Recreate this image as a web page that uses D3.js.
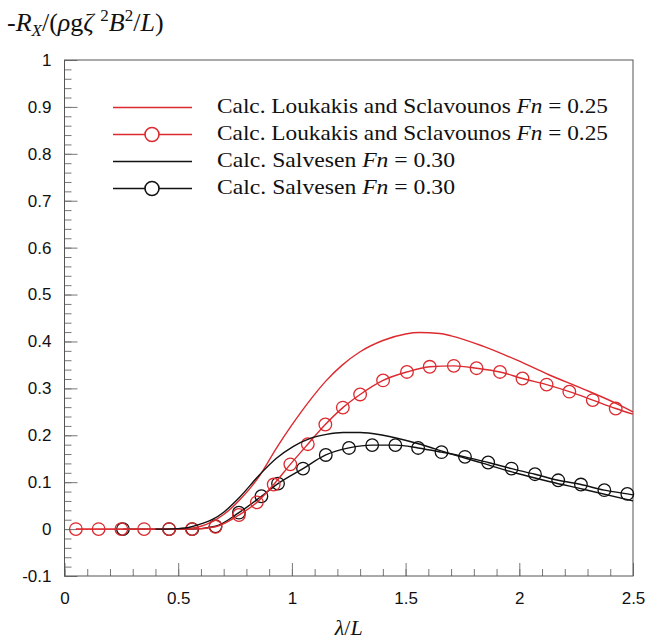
<!DOCTYPE html>
<html>
<head>
<meta charset="utf-8">
<script src="https://cdn.jsdelivr.net/npm/d3@7"></script>
<style>
  html, body { margin: 0; padding: 0; background: #fff; }
  svg { display: block; }
  .tick text { font-family: "Liberation Sans", Arial, sans-serif; font-size: 17px; fill: #111; }
</style>
</head>
<body>
<svg id="chart" width="647" height="642"></svg>
<script>
// Added-resistance curves, λ/L vs non-dimensional -R_X
const loukakisLineX = [0.05, 0.2, 0.4, 0.5, 0.56, 0.6, 0.65, 0.7, 0.77, 0.86, 0.93, 1.0, 1.08, 1.15, 1.22, 1.3, 1.4, 1.5, 1.56, 1.65, 1.7, 1.84, 1.99, 2.13, 2.28, 2.43, 2.5];
const loukakisLineY = [0, 0, 0, 0, 0.002, 0.006, 0.016, 0.031, 0.062, 0.115, 0.171, 0.222, 0.275, 0.316, 0.349, 0.378, 0.402, 0.416, 0.419, 0.417, 0.412, 0.39, 0.36, 0.329, 0.299, 0.267, 0.25];

const loukakisMarkX = [0.05, 0.15, 0.25, 0.35, 0.46, 0.56, 0.664, 0.767, 0.846, 0.92, 0.993, 1.07, 1.147, 1.224, 1.3, 1.401, 1.506, 1.606, 1.712, 1.812, 1.915, 2.014, 2.12, 2.22, 2.323, 2.424, 2.5];
const loukakisMarkY = [0, 0, 0, 0, 0, 0, 0.005, 0.03, 0.057, 0.095, 0.138, 0.181, 0.223, 0.259, 0.287, 0.317, 0.335, 0.346, 0.348, 0.343, 0.335, 0.321, 0.308, 0.293, 0.275, 0.257, 0.245];

const salvesenLineX = [0.4, 0.45, 0.5, 0.55, 0.6, 0.653, 0.7, 0.77, 0.86, 0.932, 1.005, 1.078, 1.152, 1.225, 1.3, 1.401, 1.548, 1.695, 1.841, 1.988, 2.135, 2.281, 2.5];
const salvesenLineY = [0, 0, 0.001, 0.004, 0.011, 0.021, 0.036, 0.068, 0.117, 0.151, 0.176, 0.193, 0.202, 0.206, 0.206, 0.2, 0.183, 0.161, 0.14, 0.119, 0.101, 0.085, 0.06];

const salvesenMarkX = [0.257, 0.46, 0.562, 0.664, 0.767, 0.866, 0.939, 1.049, 1.149, 1.251, 1.353, 1.455, 1.555, 1.658, 1.761, 1.863, 1.966, 2.069, 2.171, 2.271, 2.374, 2.475, 2.5];
const salvesenMarkY = [0, 0, 0, 0.006, 0.035, 0.07, 0.097, 0.129, 0.158, 0.173, 0.179, 0.179, 0.173, 0.164, 0.154, 0.142, 0.129, 0.117, 0.104, 0.095, 0.083, 0.075, 0.073];

const xTicks = [0, 0.5, 1, 1.5, 2, 2.5];
const yTicks = [-0.1, 0, 0.1, 0.2, 0.3, 0.4, 0.5, 0.6, 0.7, 0.8, 0.9, 1];

const legendLabels = [
  {pre: "Calc. Loukakis and Sclavounos ", val: " = 0.25"},
  {pre: "Calc. Loukakis and Sclavounos ", val: " = 0.25"},
  {pre: "Calc. Salvesen ", val: " = 0.30"},
  {pre: "Calc. Salvesen ", val: " = 0.30"}
];
const legendWidths = [391, 391, 238, 238];

const RED = "#dc2a2f";
const BLACK = "#111";

const svg = d3.select("#chart");
const margin = {left: 64.5, right: 14, top: 60, bottom: 66};
const W = 647, H = 642;

const x = d3.scaleLinear().domain([0, 2.5]).range([margin.left, W - margin.right]);
const y = d3.scaleLinear().domain([-0.1, 1]).range([H - margin.bottom, margin.top]);

const zip = (xs, ys) => xs.map((v, i) => ({x: v, y: ys[i]}));
const fmt = d => String(+d.toFixed(2)); // plain hyphen for negatives

// axes: minor ticks first, then major ticks with labels
const minorX = d3.range(0, 2.5001, 0.1);
const minorY = d3.range(-0.1, 1.0001, 0.02);

const gAx = svg.append("g");
gAx.append("g").attr("transform", `translate(0,${y(-0.1)})`)
  .call(d3.axisBottom(x).tickValues(minorX).tickSize(-7).tickFormat(""));
gAx.append("g").attr("transform", `translate(0,${y(-0.1)})`)
  .call(d3.axisBottom(x).tickValues(xTicks).tickSize(-13).tickPadding(16).tickFormat(fmt));
gAx.append("g").attr("transform", `translate(${x(0)},0)`)
  .call(d3.axisLeft(y).tickValues(minorY).tickSize(-7).tickFormat(""));
gAx.append("g").attr("transform", `translate(${x(0)},0)`)
  .call(d3.axisLeft(y).tickValues(yTicks).tickSize(-13).tickPadding(13).tickFormat(fmt));
gAx.selectAll(".domain").remove();
gAx.selectAll(".tick line").attr("stroke", "#777").attr("stroke-width", 1);

// frame
svg.append("rect")
  .attr("x", x(0)).attr("y", y(1))
  .attr("width", x(2.5) - x(0)).attr("height", y(-0.1) - y(1))
  .attr("fill", "none").attr("stroke", "#555").attr("stroke-width", 1);

const line = d3.line().x(d => x(d.x)).y(d => y(d.y)).curve(d3.curveMonotoneX);
const plot = svg.append("g");

function drawSeries(data, color, markers) {
  plot.append("path").datum(data)
    .attr("d", line).attr("fill", "none")
    .attr("stroke", color).attr("stroke-width", 1.4);
  if (markers) {
    plot.append("g").selectAll("circle")
      .data(data.filter(d => d.x < 2.49))
      .join("circle")
      .attr("cx", d => x(d.x)).attr("cy", d => y(d.y)).attr("r", 6.3)
      .attr("fill", "none").attr("stroke", color).attr("stroke-width", 1.3);
  }
}

drawSeries(zip(salvesenMarkX, salvesenMarkY), BLACK, true);
drawSeries(zip(loukakisMarkX, loukakisMarkY), RED, true);
drawSeries(zip(loukakisLineX, loukakisLineY), RED, false);
drawSeries(zip(salvesenLineX, salvesenLineY), BLACK, false);

// legend
const legend = svg.append("g");
const legendColors = [RED, RED, BLACK, BLACK];
const legendMarks = [false, true, false, true];
legendLabels.forEach((lab, i) => {
  const cy = 107.5 + i * 27;
  legend.append("line").attr("x1", 113).attr("x2", 192).attr("y1", cy).attr("y2", cy)
    .attr("stroke", legendColors[i]).attr("stroke-width", 1.6);
  if (legendMarks[i]) {
    legend.append("circle").attr("cx", 152).attr("cy", cy).attr("r", 7)
      .attr("fill", "#fff").attr("stroke", legendColors[i]).attr("stroke-width", 1.6);
  }
  const t = legend.append("text").attr("x", 217).attr("y", cy + 5.5)
    .attr("font-family", "'Liberation Serif', 'Times New Roman', serif")
    .attr("font-size", 21).attr("fill", "#111")
    .attr("textLength", legendWidths[i]).attr("lengthAdjust", "spacingAndGlyphs");
  t.append("tspan").text(lab.pre);
  t.append("tspan").attr("font-style", "italic").text("Fn");
  t.append("tspan").text(lab.val);
});

// y-axis title: -R_X/(ρgζ²B²/L)
const yt = svg.append("text").attr("x", 7).attr("y", 31)
  .attr("font-family", "'Liberation Serif', 'Times New Roman', serif")
  .attr("font-size", 26).attr("fill", "#111");
yt.append("tspan").text("-");
yt.append("tspan").attr("font-style", "italic").text("R");
yt.append("tspan").attr("font-style", "italic").attr("font-size", 17).attr("dy", 5).text("X");
yt.append("tspan").attr("dy", -5).text("/(");
yt.append("tspan").attr("font-style", "italic").text("ρ");
yt.append("tspan").text("g");
yt.append("tspan").attr("font-style", "italic").text("ζ ");
yt.append("tspan").attr("font-size", 17).attr("dy", -10).text("2");
yt.append("tspan").attr("font-style", "italic").attr("dy", 10).text("B");
yt.append("tspan").attr("font-size", 17).attr("dy", -10).text("2");
yt.append("tspan").attr("dy", 10).text("/");
yt.append("tspan").attr("font-style", "italic").text("L");
yt.append("tspan").text(")");

// x-axis title: λ/L
const xt = svg.append("text").attr("x", x(1.25)).attr("y", 635).attr("text-anchor", "middle")
  .attr("font-family", "'Liberation Serif', 'Times New Roman', serif")
  .attr("font-size", 22).attr("fill", "#111");
xt.append("tspan").attr("font-style", "italic").text("λ");
xt.append("tspan").text("/");
xt.append("tspan").attr("font-style", "italic").text("L");
</script>
</body>
</html>
